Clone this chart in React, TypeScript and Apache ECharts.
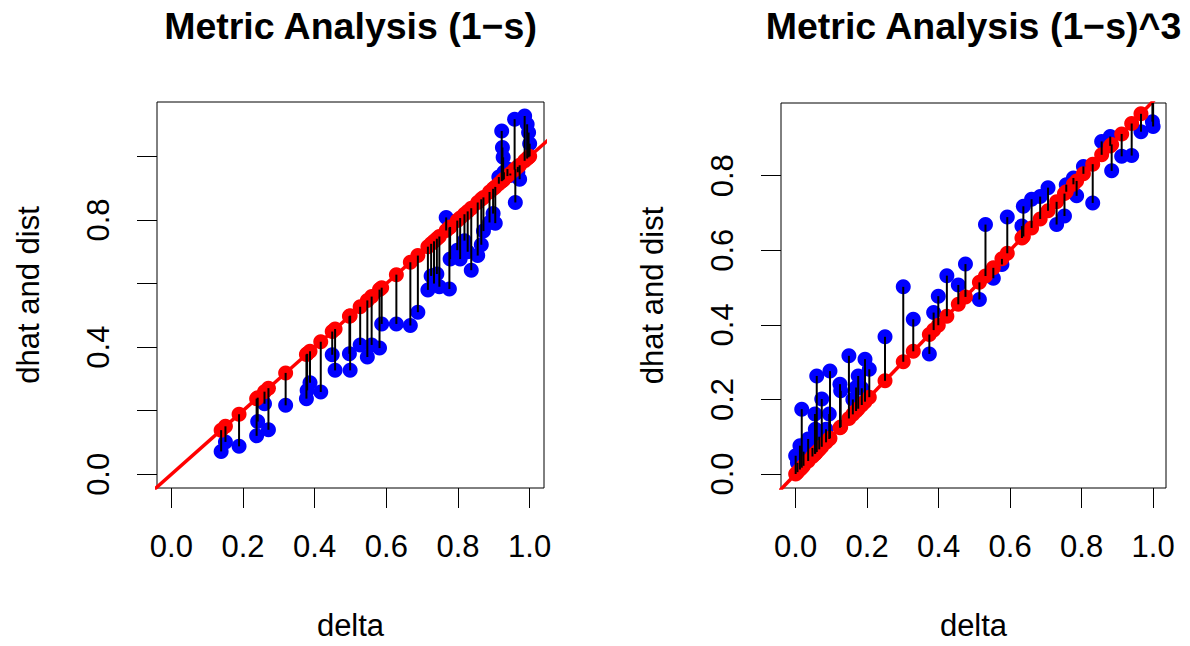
import React, { useEffect, useRef } from "react";
import * as echarts from "echarts";

// ---------- data ----------
const titles = ["Metric Analysis (1\u2212s)", "Metric Analysis (1\u2212s)^3"];
const xName = "delta";
const yName = "dhat and dist";

const xTicks = [0, 0.2, 0.4, 0.6, 0.8, 1.0];
const leftYTicks = [0, 0.2, 0.4, 0.6, 0.8, 1.0];
const leftYLabels = [0, 0.4, 0.8];
const rightYTicks = [0, 0.2, 0.4, 0.6, 0.8];
const rightYLabels = [0, 0.2, 0.4, 0.6, 0.8];

// left panel: delta (dissimilarity) and dist (configuration distance)
const leftDelta = [
  0.139, 0.151, 0.189, 0.238, 0.241, 0.26, 0.271, 0.319, 0.377, 0.379,
  0.387, 0.417, 0.449, 0.457, 0.497, 0.499, 0.527, 0.547, 0.559, 0.581,
  0.587, 0.628, 0.667, 0.688, 0.716, 0.725, 0.733, 0.741, 0.748, 0.767,
  0.776, 0.778, 0.798, 0.806, 0.818, 0.827, 0.837, 0.855, 0.865, 0.871,
  0.888, 0.898, 0.904, 0.914, 0.922, 0.924, 0.926, 0.928, 0.938, 0.946,
  0.958, 0.96, 0.967, 0.972, 0.986, 0.993, 0.997, 1.0,
];
const leftDist = [
  0.072, 0.102, 0.088, 0.121, 0.166, 0.222, 0.14, 0.217, 0.238, 0.264,
  0.288, 0.259, 0.376, 0.327, 0.379, 0.327, 0.407, 0.369, 0.407, 0.397,
  0.473, 0.473, 0.468, 0.51, 0.58, 0.624, 0.6, 0.63, 0.59, 0.808,
  0.583, 0.677, 0.705, 0.677, 0.735, 0.7, 0.642, 0.688, 0.722, 0.765,
  0.792, 0.82, 0.79, 0.935, 1.08, 1.028, 0.997, 0.95, 0.96, 0.94,
  1.117, 0.855, 0.95, 0.928, 1.127, 1.101, 1.075, 1.04,
];

// right panel
const rightDelta = [
  0.0, 0.005, 0.012, 0.017, 0.022, 0.035, 0.047, 0.054, 0.055, 0.059,
  0.066, 0.073, 0.085, 0.094, 0.096, 0.124, 0.126, 0.149, 0.16, 0.169,
  0.175, 0.185, 0.194, 0.206, 0.25, 0.301, 0.329, 0.374, 0.386, 0.399,
  0.423, 0.455, 0.475, 0.514, 0.531, 0.553, 0.577, 0.592, 0.633, 0.637,
  0.66, 0.684, 0.706, 0.73, 0.752, 0.757, 0.777, 0.786, 0.805, 0.831,
  0.856, 0.88, 0.884, 0.912, 0.94, 0.966, 0.998, 1.0,
];
const rightDist = [
  0.049, 0.03, 0.076, 0.174, 0.06, 0.094, 0.07, 0.161, 0.12, 0.263,
  0.1, 0.201, 0.12, 0.161, 0.276, 0.241, 0.223, 0.317, 0.2, 0.232,
  0.263, 0.23, 0.308, 0.281, 0.368, 0.502, 0.415, 0.322, 0.433, 0.477,
  0.532, 0.507, 0.563, 0.468, 0.669, 0.525, 0.562, 0.689, 0.665, 0.718,
  0.737, 0.744, 0.768, 0.669, 0.692, 0.776, 0.794, 0.746, 0.825, 0.727,
  0.892, 0.905, 0.813, 0.852, 0.854, 0.918, 0.945, 0.932,
];

// ---------- layout ----------
const FONT = "'Liberation Sans', Arial, Helvetica, sans-serif";
const panels = [
  {
    delta: leftDelta,
    dist: leftDist,
    title: titles[0],
    grid: { left: 157, top: 102, width: 387, height: 387 },
    xMin: -0.04,
    xMax: 1.04,
    yMin: -0.043,
    yMax: 1.171,
    yTicks: leftYTicks,
    yLabels: leftYLabels,
  },
  {
    delta: rightDelta,
    dist: rightDist,
    title: titles[1],
    grid: { left: 781, top: 103, width: 385, height: 386 },
    xMin: -0.041,
    xMax: 1.036,
    yMin: -0.0375,
    yMax: 0.995,
    yTicks: rightYTicks,
    yLabels: rightYLabels,
  },
];

const fmt = (v: number) => v.toFixed(1);

export default function App() {
  const ref = useRef<HTMLDivElement>(null);

  useEffect(() => {
    if (!ref.current) return;
    const chart = echarts.init(ref.current, null, { renderer: "svg" });

    const grids: any[] = [];
    const xAxes: any[] = [];
    const yAxes: any[] = [];
    const series: any[] = [];
    const title: any[] = [];

    panels.forEach((p, i) => {
      grids.push({
        ...p.grid,
        show: true,
        borderColor: "#000",
        borderWidth: 1,
        backgroundColor: "transparent",
        containLabel: false,
      });
      title.push({
        text: p.title,
        left: p.grid.left + p.grid.width / 2,
        top: 7,
        padding: 0,
        textAlign: "center",
        textStyle: {
          fontFamily: FONT,
          fontSize: 37.5,
          fontWeight: "bold",
          color: "#000",
        },
      });
      xAxes.push({
        type: "value",
        gridIndex: i,
        min: p.xMin,
        max: p.xMax,
        position: "bottom",
        axisLine: { show: false, onZero: false },
        splitLine: { show: false },
        axisTick: {
          show: true,
          length: 20,
          customValues: xTicks,
          lineStyle: { color: "#000", width: 1 },
        },
        axisLabel: {
          show: true,
          customValues: xTicks,
          formatter: fmt,
          margin: 43,
          fontFamily: FONT,
          fontSize: 31,
          color: "#000",
        },
        name: xName,
        nameLocation: "middle",
        nameGap: 122,
        nameTextStyle: { fontFamily: FONT, fontSize: 31, color: "#000" },
      });
      yAxes.push({
        type: "value",
        gridIndex: i,
        min: p.yMin,
        max: p.yMax,
        position: "left",
        axisLine: { show: false, onZero: false },
        splitLine: { show: false },
        axisTick: {
          show: true,
          length: 20,
          customValues: p.yTicks,
          lineStyle: { color: "#000", width: 1 },
        },
        axisLabel: {
          show: true,
          customValues: p.yLabels,
          formatter: fmt,
          rotate: 90,
          margin: 43,
          fontFamily: FONT,
          fontSize: 31,
          color: "#000",
        },
        name: yName,
        nameLocation: "middle",
        nameRotate: 90,
        nameGap: 113,
        nameTextStyle: { fontFamily: FONT, fontSize: 31, color: "#000" },
      });

      const pairs = p.delta.map((d, k) => [d, p.dist[k]]);
      series.push({
        type: "scatter",
        xAxisIndex: i,
        yAxisIndex: i,
        data: pairs,
        symbol: "circle",
        symbolSize: 15,
        itemStyle: { color: "#0000ff", opacity: 1 },
        z: 2,
        silent: true,
      });
      series.push({
        type: "line",
        xAxisIndex: i,
        yAxisIndex: i,
        data: [
          [-0.5, -0.5],
          [1.5, 1.5],
        ],
        showSymbol: false,
        symbol: "none",
        clip: true,
        lineStyle: { color: "#ff0000", width: 3.5 },
        z: 3,
        silent: true,
      });
      series.push({
        type: "scatter",
        xAxisIndex: i,
        yAxisIndex: i,
        data: p.delta.map((d) => [d, d]),
        symbol: "circle",
        symbolSize: 15,
        itemStyle: { color: "#ff0000", opacity: 1 },
        z: 4,
        silent: true,
      });
      series.push({
        type: "custom",
        xAxisIndex: i,
        yAxisIndex: i,
        data: pairs,
        z: 5,
        silent: true,
        clip: true,
        renderItem: (params: any, api: any) => {
          const d = api.value(0);
          const v = api.value(1);
          const a = api.coord([d, v]);
          const b = api.coord([d, d]);
          return {
            type: "line",
            shape: { x1: a[0], y1: a[1], x2: b[0], y2: b[1] },
            style: { stroke: "#000", lineWidth: 2 },
          };
        },
      });
    });

    chart.setOption({
      animation: false,
      backgroundColor: "#ffffff",
      title,
      grid: grids,
      xAxis: xAxes,
      yAxis: yAxes,
      series,
    });

    return () => {
      chart.dispose();
    };
  }, []);

  return (
    <div
      ref={ref}
      style={{
        position: "fixed",
        left: 0,
        top: 0,
        width: 1190,
        height: 646,
        background: "#fff",
      }}
    />
  );
}
